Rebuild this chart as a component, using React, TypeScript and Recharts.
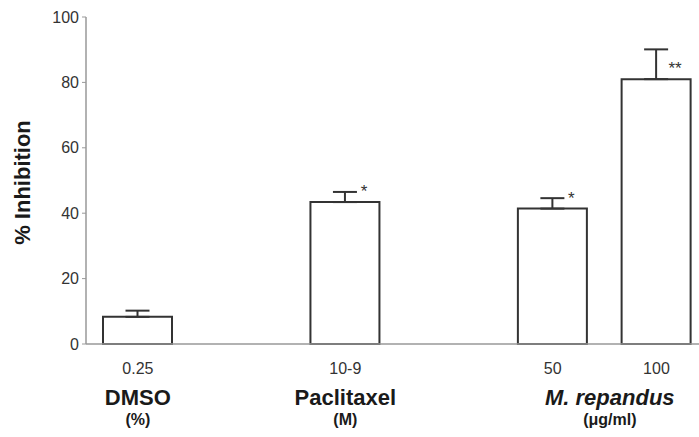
import React from "react";
import {
  Bar,
  BarChart,
  XAxis,
  YAxis,
  ErrorBar,
  LabelList,
} from "recharts";

// bar slots on a numeric x scale (gaps between groups are empty slots)
const positions = [0, 2, 4, 5];
const doses = ["0.25", "10-9", "50", "100"];
const inhibition = [8.3, 43.4, 41.4, 81.0];
const sem = [1.9, 3.1, 3.2, 9.1];
const significance = ["", "*", "*", "**"];

const groupPositions = [0, 2, 4.55];
const groupNames = ["DMSO", "Paclitaxel", "M. repandus"];
const groupUnits = ["(%)", "(M)", "(μg/ml)"];
const groupItalic = [false, false, true];

const yTicks = [0, 20, 40, 60, 80, 100];

const font = "'Liberation Sans', Arial, Helvetica, sans-serif";

const data = positions.map((pos, i) => ({
  pos,
  dose: doses[i],
  value: inhibition[i],
  err: [0, sem[i]],
  sig: significance[i],
}));

function DoseTick(props: any) {
  const { x, y, payload } = props;
  const i = positions.indexOf(payload.value);
  return (
    <text x={x} y={y + 30} textAnchor="middle" fontSize={16} fill="#333" fontFamily={font}>
      {doses[i]}
    </text>
  );
}

function GroupTick(props: any) {
  const { x, y, payload } = props;
  const i = groupPositions.indexOf(payload.value);
  if (i < 0) return null;
  return (
    <g fontFamily={font} fill="#1a1a1a" fontWeight="bold">
      <text x={x} y={y + 37} textAnchor="middle" fontSize={22} fontStyle={groupItalic[i] ? "italic" : "normal"}>
        {groupNames[i]}
      </text>
      <text x={x} y={y + 57} textAnchor="middle" fontSize={16}>
        {groupUnits[i]}
      </text>
    </g>
  );
}

function SigLabel(props: any) {
  const { x, y, width, value } = props;
  if (!value) return null;
  return (
    <text x={x + width / 2 + 19} y={y - 5} textAnchor="middle" fontSize={17} fill="#333" fontFamily={font}>
      {value}
    </text>
  );
}

export default function App() {
  return (
    <div style={{ position: "absolute", left: 0, top: 0, background: "#fff" }}>
      <BarChart
        width={699}
        height={437}
        data={data}
        margin={{ top: 17, right: 0, left: 0, bottom: 0 }}
      >
        <XAxis
          dataKey="pos"
          type="number"
          domain={[-0.5, 5.41]}
          ticks={positions}
          allowDataOverflow
          height={24}
          tickSize={0}
          tickMargin={0}
          tickLine={false}
          axisLine={{ stroke: "#999", strokeWidth: 1.5 }}
          tick={<DoseTick />}
        />
        <XAxis
          xAxisId="group"
          dataKey="pos"
          type="number"
          domain={[-0.5, 5.41]}
          ticks={groupPositions}
          allowDataOverflow
          height={69}
          tickSize={0}
          tickMargin={0}
          tickLine={false}
          axisLine={false}
          tick={<GroupTick />}
        />
        <YAxis
          width={86}
          domain={[0, 100]}
          ticks={yTicks}
          tickSize={4}
          tickMargin={3}
          axisLine={{ stroke: "#999", strokeWidth: 1.5 }}
          tickLine={{ stroke: "#999" }}
          tick={{ fontSize: 16, fill: "#333", fontFamily: font }}
          label={{
            content: (p: any) => {
              const vb = p.viewBox || { y: 17, height: 327 };
              const cy = vb.y + vb.height / 2;
              return (
                <text
                  transform={`translate(22, ${cy + 2}) rotate(-90)`}
                  textAnchor="middle"
                  dominantBaseline="central"
                  fontSize={22}
                  fontWeight="bold"
                  fill="#1a1a1a"
                  fontFamily={font}
                >
                  % Inhibition
                </text>
              );
            },
          }}
        />
        <Bar
          dataKey="value"
          fill="#fff"
          stroke="#333"
          strokeWidth={2}
          barSize={69}
          isAnimationActive={false}
        >
          <ErrorBar dataKey="err" width={12} stroke="#333" strokeWidth={2} direction="y" />
          <LabelList dataKey="sig" content={<SigLabel />} />
        </Bar>
      </BarChart>
    </div>
  );
}
